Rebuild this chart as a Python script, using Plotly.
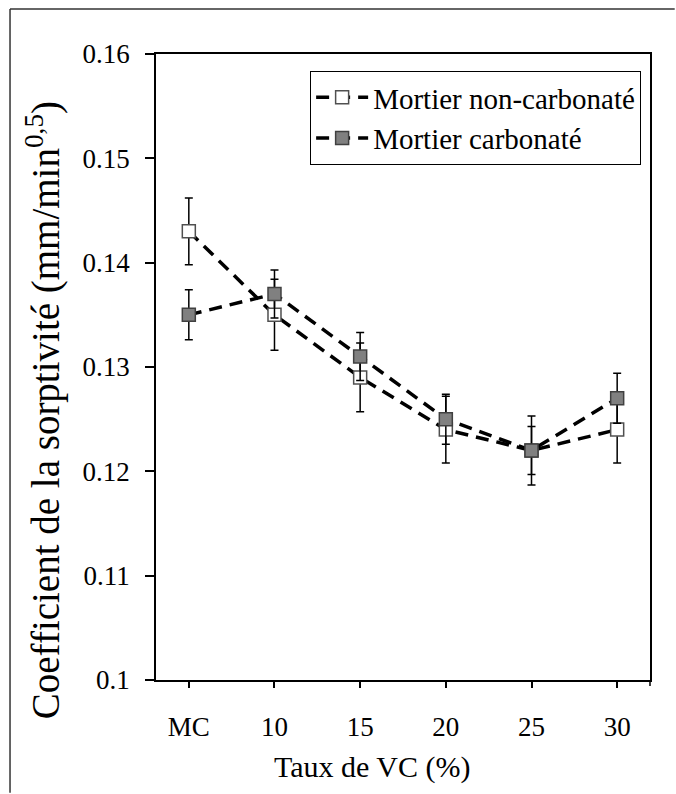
import plotly.graph_objects as go

# Sorptivity coefficient vs. glass-powder (VC) content
categories = ["MC", "10", "15", "20", "25", "30"]

non_carb = [0.143, 0.135, 0.129, 0.124, 0.122, 0.124]
non_carb_err = [0.0032, 0.0034, 0.0033, 0.0032, 0.0033, 0.0032]

carb = [0.135, 0.137, 0.131, 0.125, 0.122, 0.127]
carb_err = [0.0024, 0.0023, 0.0023, 0.0024, 0.0023, 0.0024]

y_ticks = [0.10, 0.11, 0.12, 0.13, 0.14, 0.15, 0.16]
y_tick_text = ["0.1", "0.11", "0.12", "0.13", "0.14", "0.15", "0.16"]

x_title = "Taux de VC (%)"
y_title = "Coefficient de la sorptivité (mm/min<sup>0,5</sup>)"

FONT = "Liberation Serif"

fig = go.Figure()

fig.add_trace(go.Scatter(
    x=categories, y=non_carb, name="Mortier non-carbonaté",
    mode="lines+markers",
    line=dict(color="black", width=3.5, dash="13px,8px"),
    marker=dict(symbol="square", size=13, color="white",
                line=dict(color="#505050", width=1.5)),
    error_y=dict(type="data", array=non_carb_err, visible=True,
                 color="black", thickness=1.5, width=4),
))

fig.add_trace(go.Scatter(
    x=categories, y=carb, name="Mortier carbonaté",
    mode="lines+markers",
    line=dict(color="black", width=3.5, dash="13px,8px"),
    marker=dict(symbol="square", size=13, color="#808080",
                line=dict(color="#404040", width=1.5)),
    error_y=dict(type="data", array=carb_err, visible=True,
                 color="black", thickness=1.5, width=4),
))

# outer chart frame: top and left edges (the rest runs off the page)
frame = dict(color="#333333", width=1.5)
fig.add_shape(type="line", xref="paper", yref="paper",
              x0=-0.2955, x1=1.05, y0=1.0719, y1=1.0719, line=frame)
fig.add_shape(type="line", xref="paper", yref="paper",
              x0=-0.2955, x1=-0.2955, y0=1.0719, y1=-0.18, line=frame)

# small tick at the right end of the category axis
fig.add_shape(type="line", xref="paper", yref="paper",
              x0=1, x1=1, y0=0, y1=-6 / 626,
              line=dict(color="black", width=1.5))

# axis titles
fig.add_annotation(text=x_title, xref="paper", yref="paper",
                   x=0.437, y=-0.139, xanchor="center", yanchor="middle",
                   showarrow=False, font=dict(family=FONT, size=30, color="black"))
fig.add_annotation(text=y_title, xref="paper", yref="paper",
                   x=-0.2287, y=0.431, xanchor="center", yanchor="middle",
                   textangle=-90, showarrow=False,
                   font=dict(family=FONT, size=39, color="black"))

fig.update_layout(
    width=676, height=794,
    margin=dict(l=156, r=26, t=54, b=114),
    paper_bgcolor="white", plot_bgcolor="white",
    font=dict(family=FONT, size=27, color="black"),
    showlegend=True,
    legend=dict(
        x=0.312, y=0.973, xanchor="left", yanchor="top",
        bordercolor="black", borderwidth=1, bgcolor="white",
        font=dict(family=FONT, size=29, color="black"),
        itemwidth=52, tracegroupgap=0,
    ),
    xaxis=dict(
        type="category",
        ticks="outside", ticklen=6, tickwidth=1.5, tickcolor="black",
        showline=True, linecolor="black", linewidth=1.5, mirror=True,
        showgrid=False, zeroline=False,
        tickfont=dict(family=FONT, size=27),
        ticklabelstandoff=16,
    ),
    yaxis=dict(
        range=[0.1, 0.16], tickvals=y_ticks, ticktext=y_tick_text,
        ticks="outside", ticklen=9, tickwidth=1.5, tickcolor="black",
        showline=True, linecolor="black", linewidth=1.5, mirror=True,
        showgrid=False, zeroline=False,
        tickfont=dict(family=FONT, size=27),
        ticklabelstandoff=10,
    ),
)

fig.write_html("out.html")
